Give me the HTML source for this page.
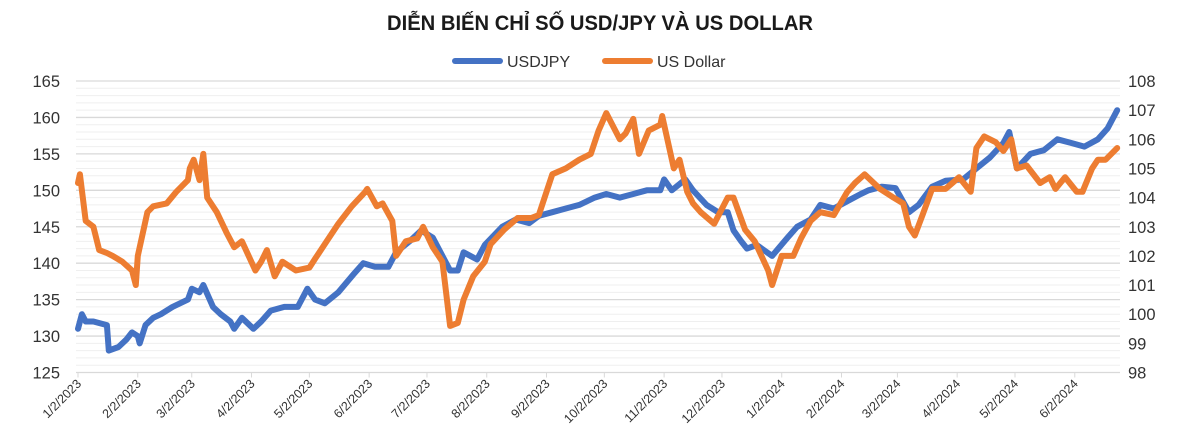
<!DOCTYPE html>
<html><head><meta charset="utf-8"><style>
body{margin:0;background:#fff;width:1200px;height:436px;overflow:hidden;font-family:"Liberation Sans","Noto Sans CJK SC",sans-serif}
</style></head><body>
<svg id="chart" width="1200" height="436" xmlns="http://www.w3.org/2000/svg">
<text x="600" y="30" text-anchor="middle" font-size="21" font-weight="bold" fill="#1a1a1a" font-family="Liberation Sans, sans-serif" textLength="426" lengthAdjust="spacingAndGlyphs">DIỄN BIẾN CHỈ SỐ USD/JPY VÀ US DOLLAR</text>
<g>
<g><line x1="455" y1="61" x2="500" y2="61" stroke="#4472C4" stroke-width="6" stroke-linecap="round"/><text x="507" y="67" font-size="16" fill="#333">USDJPY</text></g>
<g><line x1="605" y1="61" x2="650" y2="61" stroke="#ED7D31" stroke-width="6" stroke-linecap="round"/><text x="657" y="67" font-size="16" fill="#333">US Dollar</text></g>
</g>
<g id="grid"></g><g id="axes"></g><g id="series"></g>
</svg>
<script>
const xTickLabels=["1/2/2023","2/2/2023","3/2/2023","4/2/2023","5/2/2023","6/2/2023","7/2/2023","8/2/2023","9/2/2023","10/2/2023","11/2/2023","12/2/2023","1/2/2024","2/2/2024","3/2/2024","4/2/2024","5/2/2024","6/2/2024"];
const leftTicks=[125,130,135,140,145,150,155,160,165];
const rightTicks=[98,99,100,101,102,103,104,105,106,107,108];
const jpyDates=["2023-01-02","2023-01-04","2023-01-06","2023-01-10","2023-01-17","2023-01-18","2023-01-23","2023-01-27","2023-01-30","2023-02-02","2023-02-03","2023-02-06","2023-02-10","2023-02-14","2023-02-20","2023-02-28","2023-03-02","2023-03-06","2023-03-08","2023-03-13","2023-03-17","2023-03-22","2023-03-24","2023-03-28","2023-04-03","2023-04-07","2023-04-12","2023-04-19","2023-04-26","2023-05-01","2023-05-05","2023-05-10","2023-05-17","2023-05-25","2023-05-30","2023-06-05","2023-06-12","2023-06-16","2023-06-23","2023-06-29","2023-07-05","2023-07-14","2023-07-18","2023-07-21","2023-07-28","2023-08-01","2023-08-10","2023-08-17","2023-08-24","2023-08-29","2023-09-05","2023-09-12","2023-09-19","2023-09-27","2023-10-03","2023-10-10","2023-10-17","2023-10-24","2023-10-31","2023-11-02","2023-11-06","2023-11-13","2023-11-17","2023-11-24","2023-11-30","2023-12-05","2023-12-08","2023-12-12","2023-12-15","2023-12-20","2023-12-28","2024-01-05","2024-01-10","2024-01-17","2024-01-22","2024-01-29","2024-02-05","2024-02-12","2024-02-16","2024-02-23","2024-03-01","2024-03-08","2024-03-13","2024-03-20","2024-03-27","2024-04-05","2024-04-12","2024-04-19","2024-04-26","2024-04-29","2024-05-03","2024-05-10","2024-05-17","2024-05-24","2024-05-31","2024-06-07","2024-06-14","2024-06-19","2024-06-24"];
const jpyValues=[131,133,132,132,131.5,128,128.5,129.5,130.5,130,129,131.5,132.5,133,134,135,136.5,136,137,134,133,132,131,132.5,131,132,133.5,134,134,136.5,135,134.5,136,138.5,140,139.5,139.5,141.5,143,144.5,143.5,139,139,141.5,140.5,142.5,145,146,145.5,146.5,147,147.5,148,149,149.5,149,149.5,150,150,151.5,150,151.5,150,148,147,147,144.5,143,142,142.5,141,143.5,145,146,148,147.5,148.5,149.5,150,150.5,150.3,147,148,150.5,151.3,151.5,153,154.5,156.5,158,153,155,155.5,157,156.5,156,157,158.5,161];
const usdDates=["2023-01-02","2023-01-03","2023-01-06","2023-01-10","2023-01-13","2023-01-17","2023-01-20","2023-01-25","2023-01-30","2023-02-01","2023-02-02","2023-02-07","2023-02-10","2023-02-17","2023-02-22","2023-02-28","2023-03-01","2023-03-03","2023-03-06","2023-03-08","2023-03-10","2023-03-15","2023-03-20","2023-03-24","2023-03-28","2023-04-04","2023-04-07","2023-04-10","2023-04-14","2023-04-18","2023-04-25","2023-05-02","2023-05-05","2023-05-12","2023-05-17","2023-05-24","2023-05-31","2023-06-01","2023-06-06","2023-06-09","2023-06-14","2023-06-16","2023-06-21","2023-06-27","2023-06-30","2023-07-05","2023-07-10","2023-07-14","2023-07-18","2023-07-21","2023-07-26","2023-08-01","2023-08-04","2023-08-11","2023-08-18","2023-08-25","2023-08-29","2023-09-05","2023-09-12","2023-09-19","2023-09-25","2023-09-29","2023-10-03","2023-10-10","2023-10-13","2023-10-17","2023-10-20","2023-10-25","2023-10-31","2023-11-01","2023-11-07","2023-11-10","2023-11-14","2023-11-17","2023-11-21","2023-11-28","2023-12-05","2023-12-08","2023-12-14","2023-12-19","2023-12-26","2023-12-28","2024-01-02","2024-01-08","2024-01-12","2024-01-17","2024-01-22","2024-01-29","2024-02-05","2024-02-09","2024-02-14","2024-02-22","2024-02-29","2024-03-05","2024-03-08","2024-03-11","2024-03-15","2024-03-20","2024-03-27","2024-04-03","2024-04-09","2024-04-12","2024-04-16","2024-04-22","2024-04-26","2024-04-30","2024-05-03","2024-05-08","2024-05-15","2024-05-20","2024-05-23","2024-05-28","2024-06-03","2024-06-06","2024-06-11","2024-06-14","2024-06-18","2024-06-24"];
const usdValues=[104.5,104.8,103.2,103,102.2,102.1,102,101.8,101.5,101,102,103.5,103.7,103.8,104.2,104.6,105,105.3,104.6,105.5,104,103.5,102.8,102.3,102.5,101.5,101.8,102.2,101.3,101.8,101.5,101.6,101.9,102.6,103.1,103.7,104.2,104.3,103.7,103.8,103.2,102,102.5,102.6,103,102.3,101.8,99.6,99.7,100.5,101.3,101.8,102.4,102.9,103.3,103.3,103.4,104.8,105,105.3,105.5,106.3,106.9,106,106.2,106.7,105.5,106.3,106.5,106.8,105,105.3,104.2,103.8,103.5,103.1,104,104,102.9,102.5,101.5,101,102,102,102.6,103.2,103.5,103.4,104.2,104.5,104.8,104.3,104,103.8,103,102.7,103.4,104.3,104.3,104.7,104.2,105.7,106.1,105.9,105.6,106,105,105.1,104.5,104.7,104.3,104.7,104.2,104.2,105,105.3,105.3,105.7];

const NS="http://www.w3.org/2000/svg";
const X0=78,PXD=1.928,T0=Date.UTC(2023,0,2);
const PT=81,PB=372.5,PL=76,PR=1120;
function xDate(s){const p=s.split("-");return X0+(Date.UTC(+p[0],+p[1]-1,+p[2])-T0)/864e5*PXD;}
function yL(v){return PT+(165-v)/40*(PB-PT);}
function yR(v){return PT+(108-v)/10*(PB-PT);}
function mk(tag,attrs,parent){const e=document.createElementNS(NS,tag);for(const k in attrs)e.setAttribute(k,attrs[k]);parent.appendChild(e);return e;}
const grid=document.getElementById("grid"),axes=document.getElementById("axes"),series=document.getElementById("series");
for(let v=125;v<=165;v++){const y=yL(v);const major=v%5===0;
 const g=mk("line",{x1:PL,x2:PR,y1:y,y2:y,stroke:major?"#d9d9d9":"#efefef","stroke-width":major?1.3:1},grid);
 
 }
leftTicks.forEach(v=>{const t=mk("text",{x:60,y:yL(v)+6,"text-anchor":"end","font-size":16.5,fill:"#333"},axes);t.textContent=v;
 
 });
rightTicks.forEach(v=>{const t=mk("text",{x:1128,y:yR(v)+6,"text-anchor":"start","font-size":16.5,fill:"#333"},axes);t.textContent=v;
 
 });
xTickLabels.forEach(s=>{const p=s.split("/");const x=xDate(p[2]+"-"+p[0].padStart(2,"0")+"-"+p[1].padStart(2,"0"));
 const tk=mk("line",{x1:x,x2:x,y1:PB,y2:PB+5,stroke:"#d9d9d9"},axes);
 
 
 const t=mk("text",{x:x+4,y:PB+12,"text-anchor":"end","font-size":12.5,fill:"#333",transform:`rotate(-45 ${x+4} ${PB+12})`},axes);t.textContent=s;
 
 });
function drawLine(dates,vals,yf,color,name){const d=dates.map((s,i)=>(i?"L":"M")+xDate(s).toFixed(1)+","+yf(vals[i]).toFixed(1)).join("");
 const p=mk("path",{d:d,fill:"none",stroke:color,"stroke-width":6,"stroke-linejoin":"round","stroke-linecap":"round"},series);
 
 }
drawLine(jpyDates,jpyValues,yL,"#4472C4","usdjpy-line");
drawLine(usdDates,usdValues,yR,"#ED7D31","us-dollar-line");
</script>
</body></html>
